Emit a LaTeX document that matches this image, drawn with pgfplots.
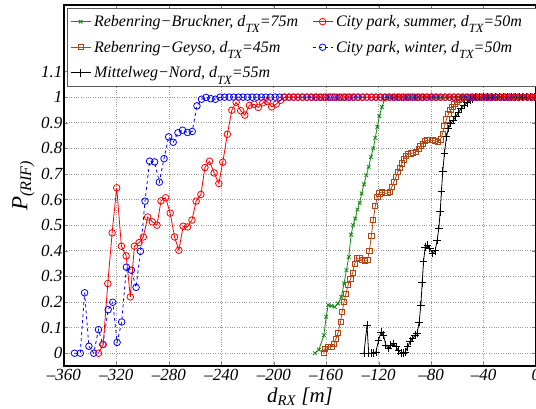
\documentclass[border=0pt]{standalone}
\usepackage{fontspec}
\setmainfont{Liberation Serif}
\usepackage{pgfplots}
\pgfplotsset{compat=1.18}

\definecolor{cgreen}{RGB}{20,135,20}
\definecolor{cbrown}{RGB}{175,70,20}
\definecolor{legframe}{RGB}{90,90,90}
% subscript as in the legend: large and set well below the baseline
\newcommand{\lsub}[1]{\raisebox{-6.5pt}{\fontsize{12.5}{12.5}\selectfont #1}}

\begin{document}
\begin{tikzpicture}
\begin{axis}[
  at={(0,0)}, anchor=south west,
  width=472pt, height=361pt, scale only axis,
  xmin=-360, xmax=0, ymin=-0.05, ymax=1.36,
  xtick={-360,-320,-280,-240,-200,-160,-120,-80,-40,0},
  xticklabels={–360,–320,–280,–240,–200,–160,–120,–80,–40,0},
  ytick={0,0.1,0.2,0.3,0.4,0.5,0.6,0.7,0.8,0.9,1,1.1},
  yticklabels={0,0.1,0.2,0.3,0.4,0.5,0.6,0.7,0.8,0.9,1,1.1},
  /pgf/number format/assume math mode=true,
  ticklabel style={font=\fontsize{17}{17}\selectfont\itshape},
  yticklabel style={inner sep=1.5pt},
  xticklabel style={inner sep=3pt},
  major tick length=4pt,
  grid=major,
  grid style={dotted, gray!80, line width=0.6pt},
  axis line style={line width=1.1pt},
  xlabel={d\textsubscript{RX} [m]},
  ylabel={P\textsubscript{(RIF)}},
  xlabel style={at={(axis description cs:0.5,-0.1)}, anchor=base, font=\fontsize{21}{21}\selectfont\itshape},
  ylabel style={at={(axis description cs:-0.055,0.5)}, anchor=south, rotate=0, font=\fontsize{23}{23}\selectfont\itshape},
  legend columns=2,
  legend cell align=left,
  legend image code/.code={\draw[mark repeat=2,mark phase=2] plot coordinates {(0pt,0pt)(10pt,0pt)(20pt,0pt)};},
  legend style={at={(axis description cs:0.006,0.992)}, anchor=north west,
    draw=legframe, line width=0.9pt, fill=white,
    font=\fontsize{16}{18}\selectfont\itshape,
    column sep=1pt, row sep=9pt, inner xsep=3pt, inner ysep=5pt,
    /tikz/column 2/.style={column sep=12pt}},
]

% Rebenring-Bruckner
\addplot[cgreen, line width=0.8pt, mark=x, mark size=2.6pt, forget plot] coordinates {
(-168.7,0)(-165.6,0.014)(-161.8,0.07)(-160,0.142)(-158.5,0.188)(-156,0.185)(-153.5,0.181)
(-151,0.194)(-148.4,0.22)(-146.4,0.272)(-144.6,0.324)(-142.8,0.376)(-141,0.463)(-139.5,0.5)
(-137.8,0.526)(-136.2,0.561)(-134.5,0.587)(-133,0.624)(-131.2,0.66)(-129.4,0.695)(-127.6,0.728)
(-125.9,0.767)(-124.1,0.8)(-122.6,0.841)(-121,0.884)(-119.5,0.926)(-117.5,0.962)(-115.5,0.99)
(-113.5,1)(-110.5,1)(-107.5,1)(-104.5,1)(-101.5,1)(-98.5,1)(-95.5,1)(-92.5,1)(-89.5,1)(-86.5,1)
(-83.5,1)(-80.5,1)(-77.5,1)(-74.5,1)(-71.5,1)(-68.5,1)(-65.5,1)(-62.5,1)(-59.5,1)(-56.5,1)
(-53.5,1)(-50.5,1)(-47.5,1)(-44.5,1)(-41.5,1)(-38.5,1)(-35.5,1)(-32.5,1)(-29.5,1)(-26.5,1)
(-23.5,1)(-20.5,1)(-17.5,1)(-14.5,1)(-11.5,1)(-8.5,1)(-5.5,1)(-2.5,1)
};

% Rebenring-Geyso
\addplot[cbrown, line width=0.8pt, mark=square, mark size=2.6pt, forget plot] coordinates {
(-161.8,0)(-161,0.018)(-158.5,0.025)(-156,0.025)(-154.2,0.035)(-152.5,0.057)(-151,0.079)
(-149.1,0.122)(-147.9,0.161)(-146.4,0.2)(-144.9,0.233)(-143.3,0.266)(-141.5,0.289)(-139.8,0.314)
(-138.3,0.35)(-136.5,0.37)(-134.7,0.372)(-132.7,0.363)(-130.7,0.359)(-128.6,0.363)(-127.1,0.4)
(-125.6,0.458)(-124.1,0.52)(-122.6,0.574)(-121,0.61)(-119.5,0.624)(-117.5,0.63)(-115.5,0.625)
(-113.4,0.625)(-111.4,0.63)(-109.9,0.65)(-108.4,0.669)(-106.8,0.689)(-105.3,0.708)(-103.8,0.725)
(-102.3,0.741)(-100.8,0.757)(-99.3,0.77)(-97.8,0.777)(-95.7,0.78)(-93.6,0.782)(-91.7,0.786)
(-89.6,0.797)(-88.1,0.809)(-86.5,0.819)(-85,0.828)(-83,0.832)(-81,0.832)(-78.9,0.832)
(-76.9,0.829)(-74.9,0.825)(-72.8,0.835)(-71.3,0.858)(-69.8,0.887)(-68.3,0.913)(-66.8,0.934)
(-65.3,0.949)(-63.7,0.962)(-62.2,0.973)(-60.5,0.982)(-58.7,0.988)(-56.7,0.994)(-54.5,1)
(-51.5,1)(-48.5,1)(-45.5,1)(-42.5,1)(-39.5,1)(-36.5,1)(-33.5,1)(-30.5,1)(-27.5,1)(-24.5,1)
(-21.5,1)(-18.5,1)(-15.5,1)(-12.5,1)(-9.5,1)(-6.5,1)(-3.5,1)(-0.5,1)
};

% Mittelweg-Nord
\addplot[black, line width=0.8pt, mark=+, mark size=3.8pt, forget plot] coordinates {
(-131.2,0)(-128.9,0.109)(-127.6,0)(-125.9,0)(-124.1,0)(-122.1,0.005)(-120.1,0.05)(-118.1,0.083)
(-116.3,0.07)(-114.5,0.031)(-112.4,0.018)(-110.7,0.031)(-108.6,0.038)(-106.8,0.025)(-104.8,0.009)
(-103,0.001)(-101.2,0)(-99.7,0.005)(-97.9,0.025)(-95.9,0.047)(-94.2,0.057)(-92.1,0.07)
(-90.6,0.079)(-89.1,0.122)(-87.8,0.188)(-86.8,0.275)(-85.8,0.357)(-84.5,0.415)(-82.7,0.422)
(-81,0.409)(-78.9,0.389)(-76.9,0.4)(-75.4,0.441)(-74.1,0.487)(-73.1,0.552)(-72.1,0.633)
(-71.1,0.711)(-69.8,0.782)(-68.3,0.845)(-66.8,0.878)(-65,0.897)(-63.2,0.91)(-61.2,0.923)
(-59.2,0.939)(-57.1,0.956)(-54.8,0.969)(-52.5,0.978)(-50,0.988)(-48.3,0.994)(-46,1)
(-43,1)(-40,1)(-37,1)(-34,1)(-31,1)(-28,1)(-25,1)(-22,1)(-19,1)(-16,1)(-13,1)(-10,1)(-7,1)(-4,1)(-1,1)
};

% City park, winter
\addplot[blue, line width=0.8pt, dashed, mark=o, mark size=3.3pt, mark options={solid}, forget plot] coordinates {
(-352,0)(-347.6,0)(-344.3,0.236)(-341,0.027)(-337.3,0)(-333.7,0.092)(-330.4,0.034)(-326.3,0.17)
(-322.8,0.199)(-319.5,0.042)(-316,0.122)(-312.4,0.336)(-308.6,0.324)(-305,0.257)(-301.7,0.398)
(-298.2,0.594)(-294.7,0.75)(-290.9,0.747)(-287.3,0.668)(-283.7,0.76)(-280.2,0.845)(-276.7,0.824)
(-273.1,0.861)(-269.6,0.871)(-265.8,0.862)(-262.2,0.866)(-258.6,0.966)(-255.1,0.992)(-251.6,0.999)
(-248,0.994)(-244.5,0.992)(-241,1)
(-237.5,1)(-234,1)(-230.5,1)(-227,1)(-223.5,1)(-220,1)(-216.5,1)(-213,1)(-209.5,1)(-206,1)
(-202.5,1)(-199,1)(-195.5,1)(-192,1)(-188.5,1)(-185,1)(-181.5,1)(-178,1)(-174.5,1)(-171,1)
(-167.5,1)(-164,1)(-160.5,1)(-157,1)(-153.5,1)(-150,1)(-146.5,1)(-143,1)(-139.5,1)(-136,1)
(-132.5,1)(-129,1)(-125.5,1)(-122,1)(-118.5,1)(-115,1)(-111.5,1)(-108,1)(-104.5,1)(-101,1)
(-97.5,1)(-94,1)(-90.5,1)(-87,1)(-83.5,1)(-80,1)(-76.5,1)(-73,1)(-69.5,1)(-66,1)
(-62.5,1)(-59,1)(-55.5,1)(-52,1)(-48.5,1)(-45,1)(-41.5,1)(-38,1)(-34.5,1)(-31,1)
(-27.5,1)(-24,1)(-20.5,1)(-17,1)(-13.5,1)(-10,1)(-6.5,1)(-3,1)
};

% City park, summer
\addplot[red, line width=0.8pt, mark=o, mark size=3.3pt, forget plot] coordinates {
(-333.7,0)(-330.1,0.034)(-326.6,0.272)(-323.3,0.47)(-319.8,0.646)(-316.2,0.418)(-312.6,0.38)
(-309.4,0.22)(-306.3,0.418)(-302.7,0.432)(-299.5,0.454)(-296.2,0.532)(-292.6,0.513)(-289.1,0.5)
(-286,0.595)(-282.5,0.607)(-279,0.547)(-275.7,0.454)(-272.4,0.402)(-269.1,0.496)(-265.8,0.493)
(-262.4,0.52)(-259.2,0.594)(-255.6,0.62)(-252.5,0.725)(-249,0.75)(-245.5,0.704)(-241.9,0.663)
(-238.9,0.746)(-235.4,0.855)(-232,0.949)(-228.7,0.98)(-225.2,0.947)(-222.1,0.93)(-218.6,0.968)
(-215,0.972)(-211.8,0.96)(-208.4,0.978)(-205,0.983)(-201.6,0.962)(-198.1,0.973)(-194.8,0.988)
(-191.5,1)(-188.2,1)(-184.9,1)(-181.6,1)(-178.3,1)(-175,1)(-171.7,1)(-168.4,1)(-165.1,1)
(-161.8,1)(-158.5,1)(-155.2,1)(-151.9,1)(-148.6,1)(-145.3,1)(-142,1)(-138.7,1)(-135.4,1)
(-132.1,1)(-128.8,1)(-125.5,1)(-122.2,1)(-118.9,1)(-115.6,1)(-112.3,1)(-109,1)(-105.7,1)
(-102.4,1)(-99.1,1)(-95.8,1)(-92.5,1)(-89.2,1)(-85.9,1)(-82.6,1)(-79.3,1)(-76,1)(-72.7,1)
(-69.4,1)(-66.1,1)(-62.8,1)(-59.5,1)(-56.2,1)(-52.9,1)(-49.6,1)(-46.3,1)(-43,1)(-39.7,1)
(-36.4,1)(-33.1,1)(-29.8,1)(-26.5,1)(-23.2,1)(-19.9,1)(-16.6,1)(-13.3,1)(-10,1)(-6.7,1)(-3.4,1)(-0.1,1)
};

\addlegendimage{cgreen, line width=0.8pt, mark=x, mark size=2.6pt}
\addlegendentry{Rebenring−Bruckner, d\lsub{TX}=75m}
\addlegendimage{red, line width=0.8pt, mark=o, mark size=3.3pt}
\addlegendentry{City park, summer, d\lsub{TX}=50m\hspace*{10pt}}
\addlegendimage{cbrown, line width=0.8pt, mark=square, mark size=2.6pt}
\addlegendentry{Rebenring−Geyso, d\lsub{TX}=45m}
\addlegendimage{blue, line width=0.8pt, dashed, mark=o, mark size=3.3pt, mark options={solid}}
\addlegendentry{City park, winter, d\lsub{TX}=50m}
\addlegendimage{black, line width=0.8pt, mark=+, mark size=3.8pt}
\addlegendentry{Mittelweg−Nord, d\lsub{TX}=55m}
\end{axis}
\pgfresetboundingbox
\path (-64pt,-43pt) rectangle (472pt,366pt);
\end{tikzpicture}
\end{document}
